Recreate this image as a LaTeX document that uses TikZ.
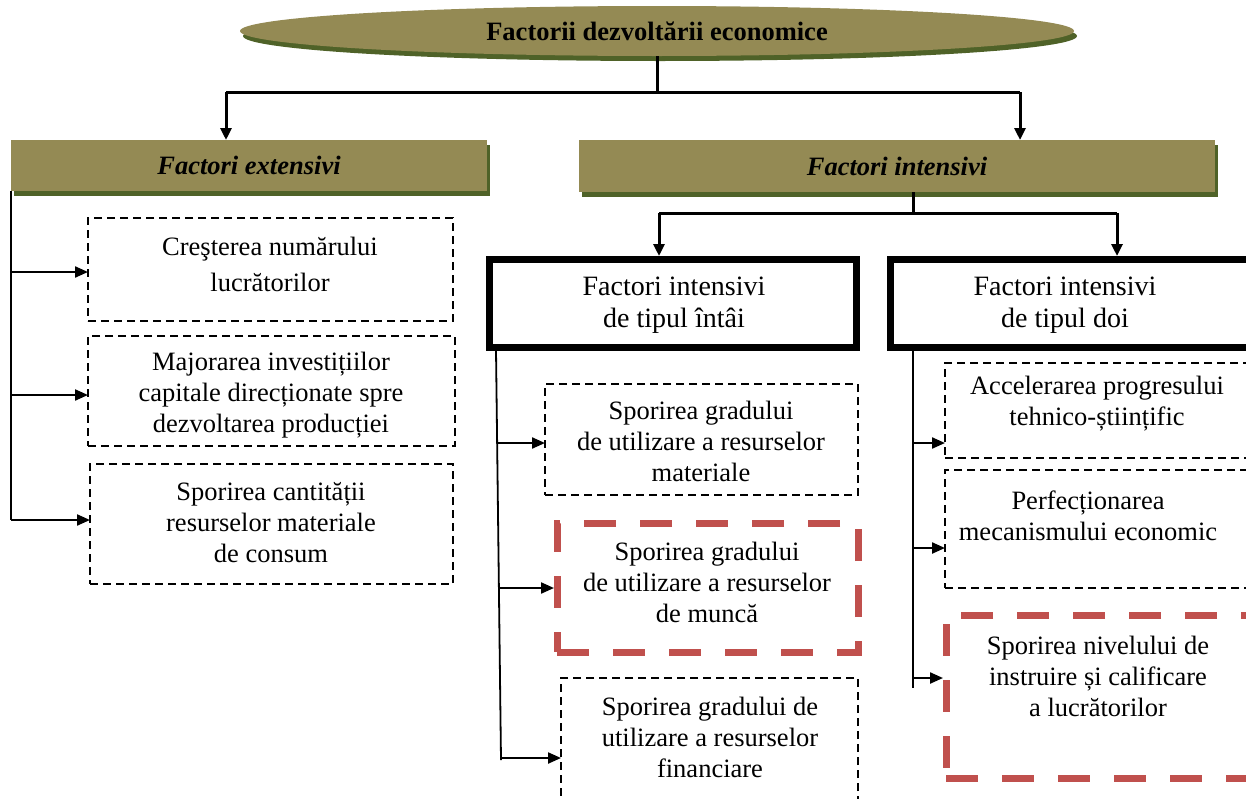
\documentclass[tikz,border=0pt]{standalone}
\usepackage{fontspec}
\setmainfont{Liberation Serif}
\usetikzlibrary{arrows.meta,shapes.geometric,shadows}

\definecolor{olivefill}{HTML}{948A54}
\definecolor{oliveshade}{HTML}{4F6228}
\definecolor{softred}{HTML}{C0504D}

\newcommand\txtbody{\fontsize{26.5pt}{31pt}\selectfont}
\newcommand\txthead{\fontsize{28pt}{32pt}\selectfont}

\tikzset{
  every node/.style={inner sep=0pt, outer sep=0pt},
  olivebanner/.style={fill=olivefill,
    general shadow={fill=oliveshade, shadow xshift=3pt, shadow yshift=-5pt}},
  heavybox/.style={draw=black, line width=7pt},
  dashbox/.style={draw=black, line width=2.4pt, dash pattern=on 8pt off 5pt},
  redbox/.style={draw=softred, line width=7pt, dash pattern=on 32pt off 24pt},
  label/.style={align=center, font=\txtbody},
  bar/.style={line width=3pt},
  trunk/.style={line width=2.2pt},
  thintrunk/.style={line width=1.8pt},
  tip/.style={-{Triangle[length=12pt,width=11pt]}},
  arr/.style={line width=2.2pt, -{Triangle[length=13pt,width=11pt]}},
}

\begin{document}
\begin{tikzpicture}[x=1pt, y=-1pt]
\useasboundingbox (0,0) rectangle (1246,798);
\clip (0,0) rectangle (1246,798);

% title ellipse
\node[ellipse, olivebanner, minimum width=834pt, minimum height=50pt] (title) at (657,31)
  {\txtbody\bfseries Factorii dezvoltării economice};

% the two main groups
\node[olivebanner, minimum width=476pt, minimum height=51pt] (hExt) at (249,165.5)
  {\txtbody\bfseries\itshape Factori extensivi};
\node[olivebanner, minimum width=636pt, minimum height=52pt] (hInt) at (897,166)
  {\txtbody\bfseries\itshape Factori intensivi};

% intensive subgroups
\node[heavybox, minimum width=367pt, minimum height=88pt] (b1) at (672.5,303) {};
\node[heavybox, minimum width=362pt, minimum height=88pt] (b2) at (1071,303) {};
\node[align=center, font=\txthead] (t1) at (674,305) {Factori intensivi\\de tipul întâi};
\node[align=center, font=\txthead] (t2) at (1065,305) {Factori intensivi\\de tipul doi};

% extensive factors
\node[dashbox, minimum width=365pt, minimum height=103pt] (bA) at (270.5,269.5) {};
\node[dashbox, minimum width=367pt, minimum height=110pt] (bB) at (271.5,391) {};
\node[dashbox, minimum width=363pt, minimum height=120pt] (bC) at (271.5,524) {};
\node[label] (tA) at (270,264) {Creşterea numărului\\[5pt]lucrătorilor};
\node[label] (tB) at (271,395) {Majorarea investițiilor\\capitale direcționate spre\\dezvoltarea producției};
\node[label] (tC) at (271,523) {Sporirea cantității\\resurselor materiale\\de consum};

% intensive factors, first type
\node[dashbox, minimum width=313pt, minimum height=111pt] (bD) at (701.5,439.5) {};
\node[redbox, minimum width=301pt, minimum height=129pt] (bE) at (707.5,587.5) {};
\node[dashbox, minimum width=297pt, minimum height=128pt] (bF) at (709.5,742) {};
\node[label] (tD) at (701,441) {Sporirea gradului\\de utilizare a resurselor\\materiale};
\node[label] (tE) at (707,582) {Sporirea gradului\\de utilizare a resurselor\\de muncă};
\node[label] (tF) at (710,737) {Sporirea gradului de\\utilizare a resurselor\\financiare};

% intensive factors, second type
\node[dashbox, minimum width=307pt, minimum height=95pt] (bG) at (1098.5,410.5) {};
\node[dashbox, minimum width=307pt, minimum height=118pt] (bH) at (1098.5,529) {};
\node[redbox, minimum width=306pt, minimum height=163pt] (bI) at (1099,696.5) {};
\node[label] (tG) at (1097,404) {Accelerarea progresului\\tehnico-științific};
\node[label] (tH) at (1088,516) {Perfecționarea\\mecanismului economic};
\node[label] (tI) at (1098,676) {Sporirea nivelului de\\instruire și calificare\\a lucrătorilor};

% top split
\coordinate (j0) at (657,92);
\coordinate (jL) at (226,92);
\coordinate (jR) at (1020,92);
\draw[bar] (title.south) -- (j0);
\draw[bar] (jL) -- (jR);
\draw[bar, tip] (jL) -- (jL |- hExt.north);
\draw[bar, tip] (jR) -- (jR |- hInt.north);

% intensive split
\coordinate (k0) at (913,213);
\coordinate (kL) at (659,213);
\coordinate (kR) at (1117,213);
\draw[bar] (k0 |- hInt.south) -- (k0);
\draw[bar] (kL) -- (kR);
\draw[bar, tip, shorten >=3pt] (kL) -- (kL |- b1.north);
\draw[bar, tip, shorten >=3pt] (kR) -- (kR |- b2.north);

% extensive trunk
\coordinate (eBot) at (11,520);
\coordinate (eA) at (11,272);
\coordinate (eB) at (11,395);
\coordinate (eC) at (11,520);
\draw[trunk] (hExt.south west) -- (eBot);
\draw[arr] (eA) -- (eA -| bA.west);
\draw[arr] (eB) -- (eB -| bB.west);
\draw[arr] (eC) -- (eC -| bC.west);

% first-type trunk
\coordinate (mTop) at (496,350);
\coordinate (mBot) at (501,760);
\coordinate (mD) at (498,443);
\coordinate (mE) at (500,588);
\coordinate (mF) at (501,758);
\draw[thintrunk] (mTop) -- (mBot);
\draw[arr] (mD) -- (mD -| bD.west);
\draw[arr, shorten >=3pt] (mE) -- (mE -| bE.west);
\draw[arr] (mF) -- (mF -| bF.west);

% second-type trunk
\coordinate (rTop) at (913,350);
\coordinate (rBot) at (913,688);
\coordinate (rG) at (913,443);
\coordinate (rH) at (913,548);
\coordinate (rI) at (913,678);
\draw[trunk] (rTop) -- (rBot);
\draw[arr] (rG) -- (rG -| bG.west);
\draw[arr] (rH) -- (rH -| bH.west);
\draw[arr, shorten >=3pt] (rI) -- (rI -| bI.west);
\end{tikzpicture}
\end{document}
